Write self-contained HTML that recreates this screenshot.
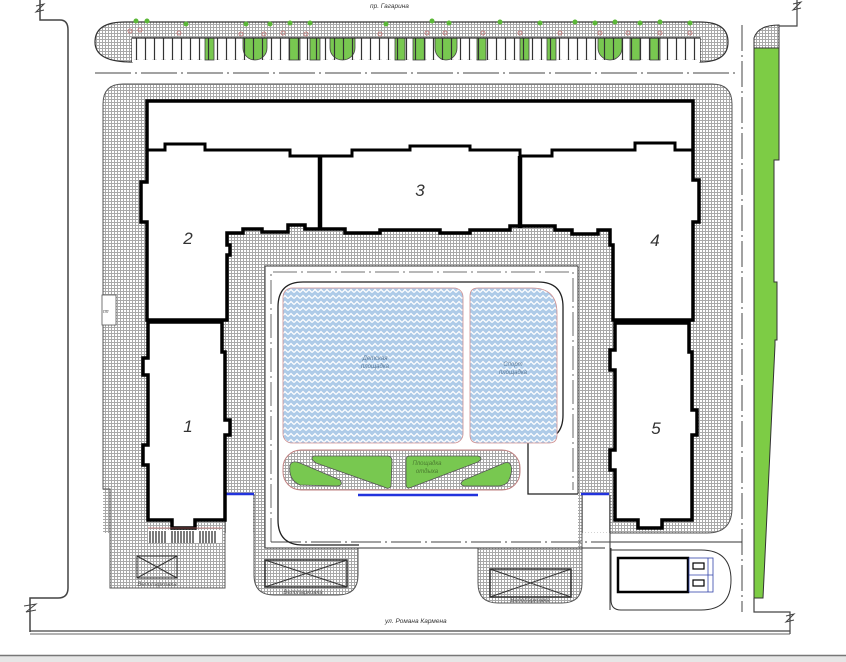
<!DOCTYPE html>
<html><head><meta charset="utf-8"><style>
html,body{margin:0;padding:0;background:#fff;}
svg{display:block;}
text{font-family:"Liberation Sans","DejaVu Sans",sans-serif;font-style:italic;}
</style></head><body>
<svg width="846" height="662" viewBox="0 0 846 662" xmlns="http://www.w3.org/2000/svg">
<defs>
<pattern id="g" width="3" height="3" patternUnits="userSpaceOnUse"><rect width="3" height="3" fill="#fff"/><path d="M0 0.5H3M0.5 0V3" stroke="#a8a8a8" stroke-width="1"/></pattern>
<pattern id="b" width="6" height="6" patternUnits="userSpaceOnUse"><rect width="6" height="6" fill="#aecbe8"/><path d="M0 4.5L3 1.5L6 4.5" stroke="#fff" stroke-width="1.3" fill="none"/></pattern>
<pattern id="st" x="132" width="9" height="30" patternUnits="userSpaceOnUse"><path d="M4.5 38V60M2 60.5H7" stroke="#333" stroke-width="1.2" transform="translate(0,-30)"/></pattern>
</defs>
<rect width="846" height="662" fill="#fff"/>

<!-- left road -->
<path d="M40,0 V20 H60 Q68,20 68,30 V588 Q68,598 58,598 H30 V632" fill="none" stroke="#444" stroke-width="1.5"/>
<path d="M36,6 L44,4 L36,12 L44,10" fill="none" stroke="#444"/>
<path d="M24,606 L36,604 L26,612 L36,610" fill="none" stroke="#444"/>
<!-- bottom road -->
<path d="M30,631 H790" stroke="#444" stroke-width="1.2"/>
<path d="M30,634 H790" stroke="#666" stroke-width="1"/>
<rect x="0" y="655" width="846" height="7" fill="#e6e6e6"/>
<path d="M0,655.5 H846" stroke="#777" stroke-width="1.5"/>

<!-- right side -->
<path d="M742,25 V612" stroke="#444" stroke-width="1" stroke-dasharray="26,4,2,4"/>
<path d="M754,48 V38 Q758,25 779,25 V48 Z" fill="url(#g)" stroke="#333"/>
<path d="M754,48 H779 V160 H774 V282 H777 V340 H775 V345 L763,598 H754 Z" fill="#7dcc45" stroke="#333" stroke-width="1"/>
<path d="M754,598 V612 H790 V634" fill="none" stroke="#444" stroke-width="1.2"/>
<path d="M786,616 L794,614 L786,622 L794,620" fill="none" stroke="#444"/>
<path d="M779,26 H797 V0" fill="none" stroke="#444" stroke-width="1.2"/>
<path d="M793,4 L801,2 L793,10 L801,8" fill="none" stroke="#444"/>

<!-- top street -->
<text x="370" y="8" font-size="6.5" fill="#333">пр. Гагарина</text>
<path d="M132,62 Q95,62 95,42 Q95,22 125,22 H700 Q728,22 728,42 Q728,62 700,62 V38 H132 Z" fill="url(#g)" stroke="#333" stroke-width="1.2"/>
<rect x="132" y="38" width="568" height="24" fill="#fff"/>
<g fill="#78c850" stroke="#444" stroke-width="0.8">
<rect x="205" y="38" width="9" height="22"/>
<path d="M243,38 H267 V48 A12,12 0 0 1 243,48 Z"/>
<rect x="289" y="38" width="11" height="22"/>
<rect x="310" y="38" width="10" height="22"/>
<path d="M330,38 H355 V48 A12.5,12 0 0 1 330,48 Z"/>
<rect x="395" y="38" width="10" height="22"/>
<rect x="413" y="38" width="12" height="22"/>
<path d="M435,38 H457 V48 A11,12 0 0 1 435,48 Z"/>
<rect x="477" y="38" width="9" height="22"/>
<rect x="520" y="38" width="9" height="22"/>
<rect x="547" y="38" width="9" height="22"/>
<path d="M598,38 H622 V48 A12,12 0 0 1 598,48 Z"/>
<rect x="630" y="38" width="10" height="22"/>
<rect x="650" y="38" width="10" height="22"/>
</g>
<rect x="132" y="38" width="568" height="24" fill="url(#st)"/>
<path d="M132,38 H700" stroke="#333" stroke-width="1.2"/>
<g fill="#5cb838">
<circle cx="136" cy="21" r="2.5"/><circle cx="147" cy="21" r="2.5"/><circle cx="186" cy="24" r="2.5"/><circle cx="246" cy="24" r="2.5"/><circle cx="270" cy="24" r="2.5"/><circle cx="290" cy="23" r="2.5"/><circle cx="310" cy="23" r="2.5"/><circle cx="386" cy="24" r="2.5"/><circle cx="432" cy="21" r="2.5"/><circle cx="449" cy="23" r="2.5"/><circle cx="500" cy="22" r="2.5"/><circle cx="540" cy="23" r="2.5"/><circle cx="575" cy="22" r="2.5"/><circle cx="595" cy="23" r="2.5"/><circle cx="615" cy="22" r="2.5"/><circle cx="640" cy="23" r="2.5"/><circle cx="660" cy="22" r="2.5"/><circle cx="690" cy="23" r="2.5"/>
</g>
<g fill="none" stroke="#c07070" stroke-width="0.8">
<circle cx="130" cy="31" r="2"/><circle cx="140" cy="30" r="2"/><circle cx="179" cy="33" r="2"/><circle cx="241" cy="34" r="2"/><circle cx="264" cy="34" r="2"/><circle cx="283" cy="33" r="2"/><circle cx="306" cy="34" r="2"/><circle cx="380" cy="34" r="2"/><circle cx="427" cy="33" r="2"/><circle cx="445" cy="33" r="2"/><circle cx="483" cy="33" r="2"/><circle cx="520" cy="33" r="2"/><circle cx="560" cy="33" r="2"/><circle cx="600" cy="33" r="2"/><circle cx="628" cy="33" r="2"/><circle cx="660" cy="33" r="2"/><circle cx="690" cy="33" r="2"/>
</g>
<path d="M95,73 H735" stroke="#444" stroke-width="1" stroke-dasharray="36,4,2,4"/>

<!-- main hatched areas -->
<g fill="url(#g)" stroke="#555" stroke-width="1">
<path d="M103,104 Q103,84 123,84 H712 Q732,84 732,104 V508 Q732,533 707,533 H103 Z" stroke="none"/>
<path d="M103,104 Q103,84 123,84 H712 Q732,84 732,104 V508 Q732,533 707,533 H610" fill="none"/>
<path d="M103,104 V489 H110 V588 H225 V494" />
<path d="M254,494 V575 Q254,595 274,595 H338 Q358,595 358,575 V494"/>
<path d="M478,494 V583 Q478,603 498,603 H562 Q582,603 582,583 V494"/>
</g>
<rect x="226" y="495" width="27" height="50" fill="#fff"/>
<rect x="583" y="495" width="26" height="37.5" fill="#fff"/>
<path d="M610,495 V610" stroke="#333" stroke-width="1"/>
<rect x="102" y="295" width="14" height="30" fill="#fff" stroke="#555" stroke-width="0.8"/>
<text x="103" y="313" font-size="5" fill="#555">пп</text>

<!-- courtyard -->
<rect x="265" y="266" width="313" height="282" fill="#fff"/>
<rect x="359" y="496" width="118" height="52" fill="#fff"/>
<path d="M265,548 V266 H578 V494" fill="none" stroke="#333" stroke-width="1"/>
<path d="M271,542 V272 H573 V490" fill="none" stroke="#444" stroke-width="0.8" stroke-dasharray="24,4,2,4"/>
<path d="M271,542 H742" stroke="#444" stroke-width="0.9" stroke-dasharray="30,4,2,4"/>
<path d="M265,548 H605" stroke="#333" stroke-width="1"/>
<path d="M611,542 H742" stroke="#333" stroke-width="1"/>
<path d="M359,545 H303 Q278,545 278,520 V307 Q278,282 303,282 H538 Q563,282 563,307 V415 Q563,440 538,440 H528 V494 H578" fill="none" stroke="#222" stroke-width="1.3"/>
<rect x="283" y="288" width="180" height="155" rx="9" fill="url(#b)" stroke="#d09090" stroke-width="0.8"/>
<path d="M470,296 Q470,288 478,288 H532 Q557,288 557,313 V435 Q557,443 549,443 H478 Q470,443 470,435 Z" fill="url(#b)" stroke="#d09090" stroke-width="0.8"/>
<text x="375" y="360" font-size="6" fill="#5a7a9a" text-anchor="middle">Детская</text>
<text x="375" y="368" font-size="6" fill="#5a7a9a" text-anchor="middle">площадка</text>
<text x="513" y="366" font-size="6" fill="#5a7a9a" text-anchor="middle">Спорт</text>
<text x="513" y="374" font-size="6" fill="#5a7a9a" text-anchor="middle">площадка</text>
<rect x="283" y="450" width="237" height="40" rx="18" fill="url(#g)" stroke="#c08080" stroke-width="1"/>
<g fill="#78c850" stroke="#555" stroke-width="0.8" stroke-linejoin="round">
<path d="M290,465 Q292,460 300,463 L340,480 Q344,486 336,486 L300,485 Q288,480 290,465 Z"/>
<path d="M314,456 H388 Q392,456 392,462 L391,486 Q389,490 384,487 L316,463 Q309,458 314,456 Z"/>
<path d="M410,456 H478 Q484,458 478,462 L412,487 Q406,490 406,484 L406,460 Q406,456 410,456 Z"/>
<path d="M510,464 Q514,470 508,482 Q504,486 498,486 L464,486 Q458,484 464,480 L502,464 Q508,461 510,464 Z"/>
</g>
<text x="427" y="465" font-size="6" fill="#4a7a30" text-anchor="middle">Площадка</text>
<text x="427" y="473" font-size="6" fill="#4a7a30" text-anchor="middle">отдыха</text>

<!-- blue lines -->
<g stroke="#2233dd" stroke-width="2.5">
<path d="M225,494 H254"/><path d="M358,495 H478"/><path d="M581,494 H609"/>
</g>

<!-- buildings -->
<g fill="#fff" stroke="#000" stroke-width="3.5" stroke-linejoin="miter">
<path d="M147,101 H693 V180 H699 V222 H693 V320 H613 V245 H610 V230 H598 V234 H572 V230 H555 V226 H510 V230 H470 V233 H440 V230 H380 V233 H345 V229 H305 V225 H288 V232 H262 V229 H243 V233 H227 V245 H230 V255 H227 V320 H147 V222 H141 V182 H147 Z"/>
<path d="M148,322 H222 V352 H225 V420 H230 V435 H225 V520 H195 V528 H172 V520 H148 V465 H143 V445 H148 V375 H143 V358 H148 Z"/>
<path d="M615,323 H689 V352 H692 V410 H697 V435 H692 V520 H662 V528 H638 V520 H615 V470 H610 V450 H615 V370 H610 V350 H615 Z"/>
</g>
<path d="M147,150 H165 V144 H205 V150 H290 V156 H352 V150 H410 V146 H470 V150 H520 V156 H552 V150 H635 V143 H675 V150 H693" fill="none" stroke="#000" stroke-width="3"/>
<path d="M320,156 V228 M520,156 V228" stroke="#000" stroke-width="4.5"/>
<text x="188" y="244" font-size="17" fill="#333" text-anchor="middle">2</text>
<text x="420" y="196" font-size="17" fill="#333" text-anchor="middle">3</text>
<text x="655" y="246" font-size="17" fill="#333" text-anchor="middle">4</text>
<text x="188" y="432" font-size="17" fill="#333" text-anchor="middle">1</text>
<text x="656" y="434" font-size="17" fill="#333" text-anchor="middle">5</text>

<!-- bike rack near building 1 -->
<path d="M148,528 H222" stroke="#c07070" stroke-width="0.8"/>
<rect x="148" y="530" width="74" height="13" fill="#fff"/>
<g stroke="#222" stroke-width="1.2">
<path d="M150,531V543M153,531V543M156,531V543M159,531V543M162,531V543M165,531V543M172,531V543M175,531V543M178,531V543M181,531V543M184,531V543M187,531V543M190,531V543M193,531V543M200,531V543M203,531V543M206,531V543M209,531V543M212,531V543M215,531V543"/>
</g>

<!-- crossed boxes -->
<g fill="none" stroke="#333" stroke-width="1">
<rect x="137" y="556" width="40" height="22"/><path d="M137,556 L177,578 M177,556 L137,578"/>
<rect x="265" y="560" width="82" height="27" stroke-width="1.5"/><path d="M265,560 L347,587 M347,560 L265,587"/>
<rect x="490" y="569" width="81" height="28" stroke-width="1.5"/><path d="M490,569 L571,597 M571,569 L490,597"/>
</g>
<text x="157" y="586" font-size="6" fill="#555" text-anchor="middle">Велопарковка</text>
<text x="303" y="594" font-size="6" fill="#555" text-anchor="middle">Велопарковка</text>
<text x="530" y="602" font-size="6" fill="#555" text-anchor="middle">Велопарковка</text>

<!-- bottom right unit -->
<path d="M611,548 V600 Q611,610 621,610 H701 Q731,610 731,580 Q731,550 701,550 H611" fill="#fff" stroke="#333" stroke-width="1"/>
<rect x="618" y="558" width="70" height="34" fill="#fff" stroke="#000" stroke-width="2.5"/>
<rect x="689" y="558" width="24" height="34" fill="#fff" stroke="#3344aa" stroke-width="0.8"/>
<path d="M689,575 H713 M708,558 V592" stroke="#3344aa" stroke-width="0.8"/>
<rect x="693" y="563" width="11" height="6" fill="#fff" stroke="#000" stroke-width="1.2"/>
<rect x="693" y="580" width="11" height="6" fill="#fff" stroke="#000" stroke-width="1.2"/>

<text x="385" y="623" font-size="6.5" fill="#333">ул. Романа Кармена</text>
</svg>
</body></html>
